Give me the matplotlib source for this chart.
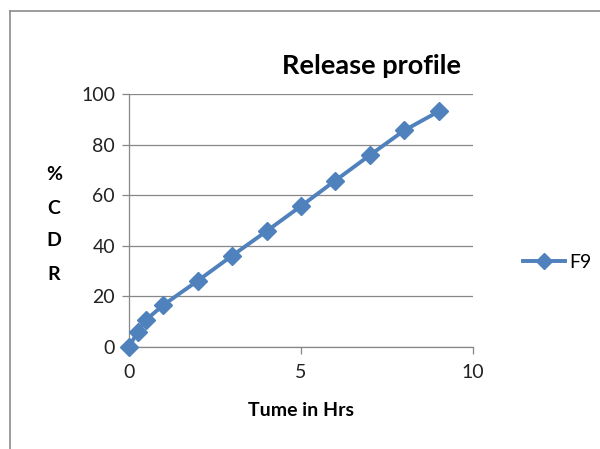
import numpy as np
import matplotlib.pyplot as plt
from matplotlib.lines import Line2D

plt.rcParams['font.family'] = ['Lato', 'DejaVu Sans']

hours = [0, 0.25, 0.5, 1, 2, 3, 4, 5, 6, 7, 8, 9]
cdr = [0, 6, 10.8, 16.6, 26.2, 36.1, 45.8, 55.7, 65.8, 75.8, 85.6, 93.1]
x_ticks = [0, 5, 10]
y_ticks = [0, 20, 40, 60, 80, 100]

BLUE = "#4F81BD"
GRID = "#878787"

fig = plt.figure(figsize=(6.0, 4.49), dpi=100)
ax = fig.add_axes([129/600, 1 - 347/449, (473-129)/600, (347-94)/449])

ax.plot(hours, cdr, color=BLUE, lw=2.8, marker="D", markersize=9,
        markerfacecolor=BLUE, markeredgecolor=BLUE, clip_on=False, zorder=3)

ax.set_xlim(0, 10)
ax.set_ylim(0, 100)
ax.set_xticks(x_ticks)
ax.set_yticks(y_ticks)
ax.yaxis.grid(True, color=GRID, lw=0.9)
ax.set_axisbelow(True)
for s in ["top", "right"]:
    ax.spines[s].set_visible(False)
for s in ["left", "bottom"]:
    ax.spines[s].set_color(GRID)
    ax.spines[s].set_linewidth(0.9)
ax.tick_params(axis="both", colors=GRID, length=5, width=0.9, labelsize=14,
               labelcolor="#222222")
ax.tick_params(axis="x", pad=7)
ax.tick_params(axis="y", pad=5)

# labels
fig.text(371/600, 1 - 66/449, "Release profile", ha="center", va="center",
         fontsize=19.5, fontweight="bold")
fig.text(301/600, 1 - 411/449, "Tume in Hrs", ha="center", va="center",
         fontsize=14, fontweight="bold")
for i, ch in enumerate("%CDR"):
    fig.text(54/600, 1 - (175 + i*33)/449, ch, ha="center", va="center",
             fontsize=14, fontweight="bold")

# legend
handle = Line2D([], [], color=BLUE, lw=2.8, marker="D", markersize=8)
fig.legend([handle], ["F9"], loc="center left", bbox_to_anchor=(505/600, 1 - 262/449),
           frameon=False, fontsize=14, handlelength=2.2, handletextpad=0.2)

# chart area border (only left and top visible)
fig.add_artist(Line2D([10/600, 10/600], [0, 1 - 11/449], color="#8c8c8c", lw=1.2))
fig.add_artist(Line2D([10/600, 1], [1 - 11/449, 1 - 11/449], color="#8c8c8c", lw=1.2))

fig.savefig("out.png", dpi=100)
